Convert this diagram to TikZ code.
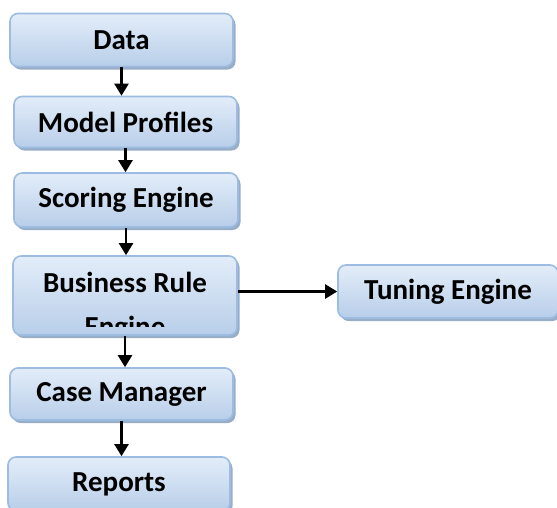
\documentclass[tikz,border=0pt]{standalone}
\usepackage{fontspec}
\setmainfont{Carlito}
\usetikzlibrary{arrows.meta,shadows}
\definecolor{boxtop}{HTML}{E3EDF9}
\definecolor{boxbot}{HTML}{B8CEE9}
\definecolor{boxline}{HTML}{9DBCE2}
\definecolor{boxshadow}{HTML}{8DA4C0}
\tikzset{
  flowbox/.style={rounded corners=8pt, draw=boxline, line width=1.6pt,
    top color=boxtop, bottom color=boxbot, inner sep=0pt,
    drop shadow={shadow xshift=2.5pt, shadow yshift=-3pt, fill=boxshadow, opacity=0.9},
    font=\fontsize{29}{33}\selectfont\bfseries, align=center},
  arr/.style={line width=2.2pt, -{Triangle[length=12pt,width=14pt]}},
  lbl/.style={font=\fontsize{29}{33}\selectfont\bfseries, inner sep=0pt, anchor=base}
}
\begin{document}
\begin{tikzpicture}[x=1pt,y=-1pt]
\useasboundingbox (0,0) rectangle (557,507);
\node[flowbox, minimum width=223pt, minimum height=53pt] (data) at (121.5,40) {Data};
\node[flowbox, minimum width=223pt, minimum height=51pt] (model) at (125.5,122) {Model Profiles};
\node[flowbox, minimum width=224pt, minimum height=54pt] (score) at (126,200) {Scoring Engine};
\node[flowbox, minimum width=224pt, minimum height=79pt] (bre) at (125,295.5) {};
\begin{scope}
  \clip (14,257) rectangle (236,326);
  \node[lbl] (bre1) at (125,292) {Business Rule};
  \node[lbl] (bre2) at (125,336) {Engine};
\end{scope}
\node[flowbox, minimum width=223pt, minimum height=52pt] (case) at (121.5,394) {Case Manager};
\node[flowbox, minimum width=222pt, minimum height=54pt] (rep) at (119,484) {Reports};
\node[flowbox, minimum width=220pt, minimum height=53pt] (tun) at (448,291.5) {Tuning Engine};
\draw[arr] (data) -- (data |- model.north);
\draw[arr] (model) -- (model |- score.north);
\draw[arr] (score) -- (score |- bre.north);
\draw[arr] (bre) -- (bre |- case.north);
\draw[arr] (case) -- (case |- rep.north);
\draw[arr] (tun -| bre.east) -- (tun.west);
\end{tikzpicture}
\end{document}
